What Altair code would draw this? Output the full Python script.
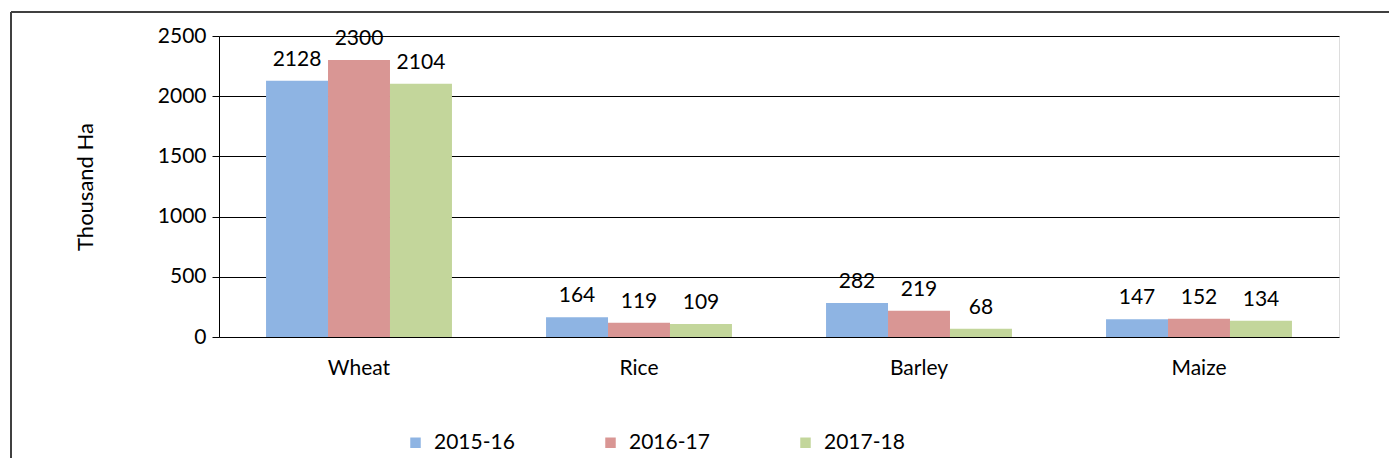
import altair as alt
import pandas as pd

crops = ["Wheat", "Rice", "Barley", "Maize"]
years = ["2015-16", "2016-17", "2017-18"]
v2015 = [2128, 164, 282, 147]
v2016 = [2300, 119, 219, 152]
v2017 = [2104, 109, 68, 134]
colors = ["#8EB4E3", "#D99694", "#C3D69B"]

rows = []
for i, c in enumerate(crops):
    for y, vals in zip(years, [v2015, v2016, v2017]):
        rows.append({"crop": c, "year": y, "value": vals[i]})
df = pd.DataFrame(rows)

FONT = "Lato"
FS = 21

x = alt.X("crop:N", sort=crops, title=None,
          scale=alt.Scale(paddingInner=0.336, paddingOuter=0.168),
          axis=alt.Axis(labelAngle=0, ticks=False, domain=False, labelPadding=20,
                        labelFontSize=FS, labelFont=FONT, labelColor="black"))
xo = alt.XOffset("year:N", sort=years)

bars = alt.Chart(df).mark_bar(stroke=None).encode(
    x=x, xOffset=xo,
    y=alt.Y("value:Q", title="Thousand Ha",
            scale=alt.Scale(domain=[0, 2500], nice=False),
            axis=alt.Axis(values=[0, 500, 1000, 1500, 2000, 2500], format="d", tickSize=7,
                          tickColor="black", domainColor="black", gridColor="black",
                          gridOpacity=1, labelFontSize=FS, labelFont=FONT,
                          labelColor="black", labelPadding=6, titleFontSize=22,
                          titleFont=FONT, titleFontWeight="normal", titleColor="black",
                          titlePadding=60)),
    color=alt.Color("year:N", sort=years, scale=alt.Scale(domain=years, range=colors),
                    legend=alt.Legend(title=None, orient="none", direction="horizontal",
                                      legendX=186, legendY=396, symbolType="square",
                                      symbolSize=110, symbolStrokeWidth=0,
                                      labelFontSize=FS, labelFont=FONT,
                                      labelColor="black", columnPadding=85,
                                      labelOffset=8))
)

labels = alt.Chart(df).mark_text(baseline="bottom", dy=-11, fontSize=FS,
                                 font=FONT, color="black").encode(
    x=x, xOffset=xo, y=alt.Y("value:Q"), text=alt.Text("value:Q")
)

frame_left = alt.Chart(df).mark_rule(color="#404040", strokeWidth=2).encode(
    x=alt.value(-208), y=alt.value(-24), y2=alt.value(440))
frame_top = alt.Chart(df).mark_rule(color="#404040", strokeWidth=2).encode(
    x=alt.value(-208), x2=alt.value(1200), y=alt.value(-24))

chart = alt.layer(bars, labels, frame_left, frame_top).properties(
    width=1120, height=301,
    autosize=alt.AutoSizeParams(type="none"),
    padding={"left": 211, "top": 28, "right": 50, "bottom": 121},
).configure_view(stroke="black", strokeWidth=1.5).configure(background="white")

chart.save("out.html", embed_options={"renderer": "svg", "actions": False})
